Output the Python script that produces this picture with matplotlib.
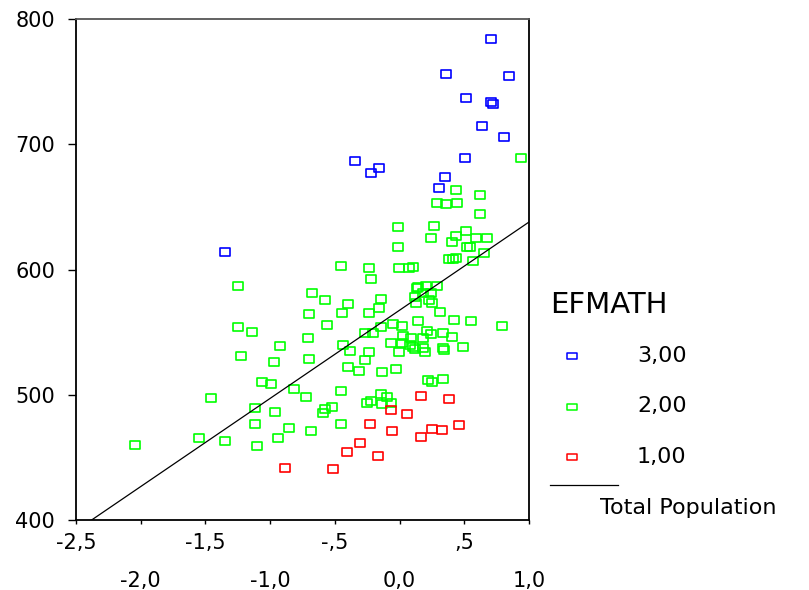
import matplotlib
matplotlib.use("Agg")
import matplotlib.pyplot as plt
from matplotlib.path import Path
from matplotlib.lines import Line2D

# ---------------- data ----------------
blue_x = [0.710, 0.362, 0.843, 0.517, 0.710, 0.722, 0.637, 0.807, 0.506, -0.348,
          -0.158, -0.217, 0.349, 0.303, -1.347]
blue_y = [784.3, 756.1, 754.5, 736.9, 733.5, 732.4, 714.8, 706.0, 689.3, 686.9,
          681.3, 677.0, 673.6, 664.8, 613.7]

red_x = [0.169, 0.385, -0.070, 0.061, -0.228, -0.058, 0.254, 0.326, 0.457, 0.169,
         -0.302, -0.410, -0.168, -0.889, -0.518]
red_y = [499.2, 496.6, 488.1, 484.4, 476.6, 471.1, 472.9, 471.9, 475.6, 466.5,
         461.5, 454.5, 450.9, 441.3, 440.5]

green_x = [0.938, 0.434, 0.625, 0.287, 0.362, 0.444, 0.625, -0.012, 0.264, 0.434,
           0.517, 0.241, 0.591, 0.676, 0.408, -0.012, 0.521, 0.547, 0.650, 0.382,
           0.413, 0.439, 0.568, -0.456, -0.240, -0.004, 0.069, 0.107, -0.217, -1.252,
           0.131, 0.143, 0.208, 0.293, 0.241, 0.181, -0.673, -0.578, 0.117, -0.143,
           0.228, 0.254, 0.125, -0.398, -0.158, -0.699, -0.444, -0.240, 0.313, 0.143,
           0.421, 0.555, 0.795, -1.252, -1.144, -0.564, -0.047, 0.022, -0.143, -0.269,
           -0.209, 0.215, 0.241, 0.339, 0.408, 0.027, 0.086, 0.181, -0.711, -0.927,
           -0.436, -0.070, 0.015, 0.079, 0.104, 0.117, 0.181, 0.336, 0.341, 0.493,
           -0.385, -0.240, -0.004, 0.195, -1.226, -0.974, -0.699, -0.266, -0.398, -0.313,
           -0.132, -0.024, 0.218, 0.254, 0.339, -1.062, -0.997, -0.817, -0.724, -0.456,
           -1.456, -0.143, -0.097, -0.217, -0.251, -0.132, -0.068, -1.118, -0.521, -0.575,
           -0.588, -0.964, -1.118, -0.456, -0.853, -0.686, -1.551, -1.347, -0.938, -1.105,
           -2.045]
green_y = [689.3, 663.7, 659.5, 653.3, 652.3, 653.3, 644.6, 633.9, 635.0, 626.7,
           630.5, 625.4, 625.4, 625.4, 621.7, 618.2, 618.2, 618.2, 612.9, 608.4,
           608.6, 609.4, 606.8, 603.0, 601.4, 601.4, 601.4, 602.2, 592.7, 587.1,
           585.0, 585.8, 586.6, 586.6, 581.5, 581.2, 581.2, 575.9, 577.8, 576.7,
           575.9, 573.3, 573.0, 572.5, 569.5, 564.5, 565.3, 565.3, 566.3, 559.1,
           559.9, 559.1, 554.7, 553.9, 550.3, 555.7, 556.5, 554.9, 553.9, 549.5,
           549.5, 551.1, 548.7, 549.5, 546.1, 547.1, 545.3, 545.1, 545.1, 538.9,
           540.0, 541.6, 541.1, 540.0, 538.4, 536.5, 537.3, 537.1, 536.0, 538.1,
           534.7, 533.9, 533.9, 533.9, 530.9, 526.4, 528.3, 527.7, 522.2, 518.7,
           517.9, 520.6, 511.8, 509.9, 512.6, 509.9, 508.8, 504.6, 498.4, 502.8,
           497.6, 500.4, 498.0, 495.0, 493.4, 492.4, 493.4, 489.4, 490.5, 488.9,
           485.4, 486.2, 476.4, 476.4, 473.7, 471.1, 465.7, 463.3, 465.7, 458.8,
           459.6]

fit_intercept = 567.5
fit_slope = 70.4
line_x = [-2.5, 1.0]

major_xticks = [-2.5, -1.5, -0.5, 0.5]
major_xlabels = ["-2,5", "-1,5", "-,5", ",5"]
minor_xticks = [-2.0, -1.0, 0.0, 1.0]
minor_xlabels = ["-2,0", "-1,0", "0,0", "1,0"]
yticks = [400, 500, 600, 700, 800]
ylabels = ["400", "500", "600", "700", "800"]

legend_title = "EFMATH"
legend_labels = ["3,00", "2,00", "1,00"]
legend_colors = ["#0000ff", "#00ff00", "#ff0000"]
line_label = "Total Population"

# ---------------- figure ----------------
plt.rcParams["font.family"] = ["DejaVu Sans"]
W, H = 809, 590
fig = plt.figure(figsize=(W / 100, H / 100), dpi=100)
ax = fig.add_axes([76 / W, 1 - 520 / H, (529 - 76) / W, (520 - 19) / H])

rect = Path([(-0.5, -0.35), (0.5, -0.35), (0.5, 0.35), (-0.5, 0.35), (-0.5, -0.35)],
            [Path.MOVETO, Path.LINETO, Path.LINETO, Path.LINETO, Path.CLOSEPOLY])

for xs, ys, c in [(blue_x, blue_y, legend_colors[0]),
                  (green_x, green_y, legend_colors[1]),
                  (red_x, red_y, legend_colors[2])]:
    ax.plot(xs, ys, linestyle="none", marker=rect, ms=7.6, mfc="none",
            mec=c, mew=1.2, zorder=2)

line_y = [fit_intercept + fit_slope * v for v in line_x]
ax.plot(line_x, line_y, color="black", lw=0.9, zorder=3)

ax.set_xlim(-2.5, 1.0)
ax.set_ylim(400, 800)

ax.set_xticks(major_xticks)
ax.set_xticklabels(major_xlabels)
ax.set_xticks(minor_xticks, minor=True)
ax.set_xticklabels(minor_xlabels, minor=True)
ax.set_yticks(yticks)
ax.set_yticklabels(ylabels)

ax.tick_params(axis="x", which="major", direction="out", length=3, width=1,
               pad=6.5, labelsize=15)
ax.tick_params(axis="x", which="minor", direction="out", length=3, width=1,
               pad=34, labelsize=15)
ax.tick_params(axis="y", direction="out", length=6, width=1, pad=9, labelsize=15)

for s in ["left", "bottom", "right"]:
    ax.spines[s].set_color("black")
    ax.spines[s].set_linewidth(1.3)
ax.spines["top"].set_color("#555555")
ax.spines["top"].set_linewidth(1.3)

# ---------------- legend (manual, figure pixel coords) ----------------
def fx(px):
    return px / W

def fy(py):
    return 1 - py / H

fig.text(fx(550), fy(305), legend_title, fontsize=21, va="center", ha="left")
for i, (lab, c) in enumerate(zip(legend_labels, legend_colors)):
    yy = 356 + i * 50.5
    fig.add_artist(Line2D([fx(572)], [fy(yy)], transform=fig.transFigure,
                          linestyle="none", marker=rect, ms=6.5, mfc="none",
                          mec=c, mew=1.1))
    fig.text(fx(637), fy(yy), lab, fontsize=16, va="center", ha="left")

fig.add_artist(Line2D([fx(550), fx(618)], [fy(485), fy(485)],
                      transform=fig.transFigure, color="black", lw=0.9))
fig.text(fx(600), fy(508), line_label, fontsize=16, va="center", ha="left")

fig.savefig("out.png", dpi=100)
